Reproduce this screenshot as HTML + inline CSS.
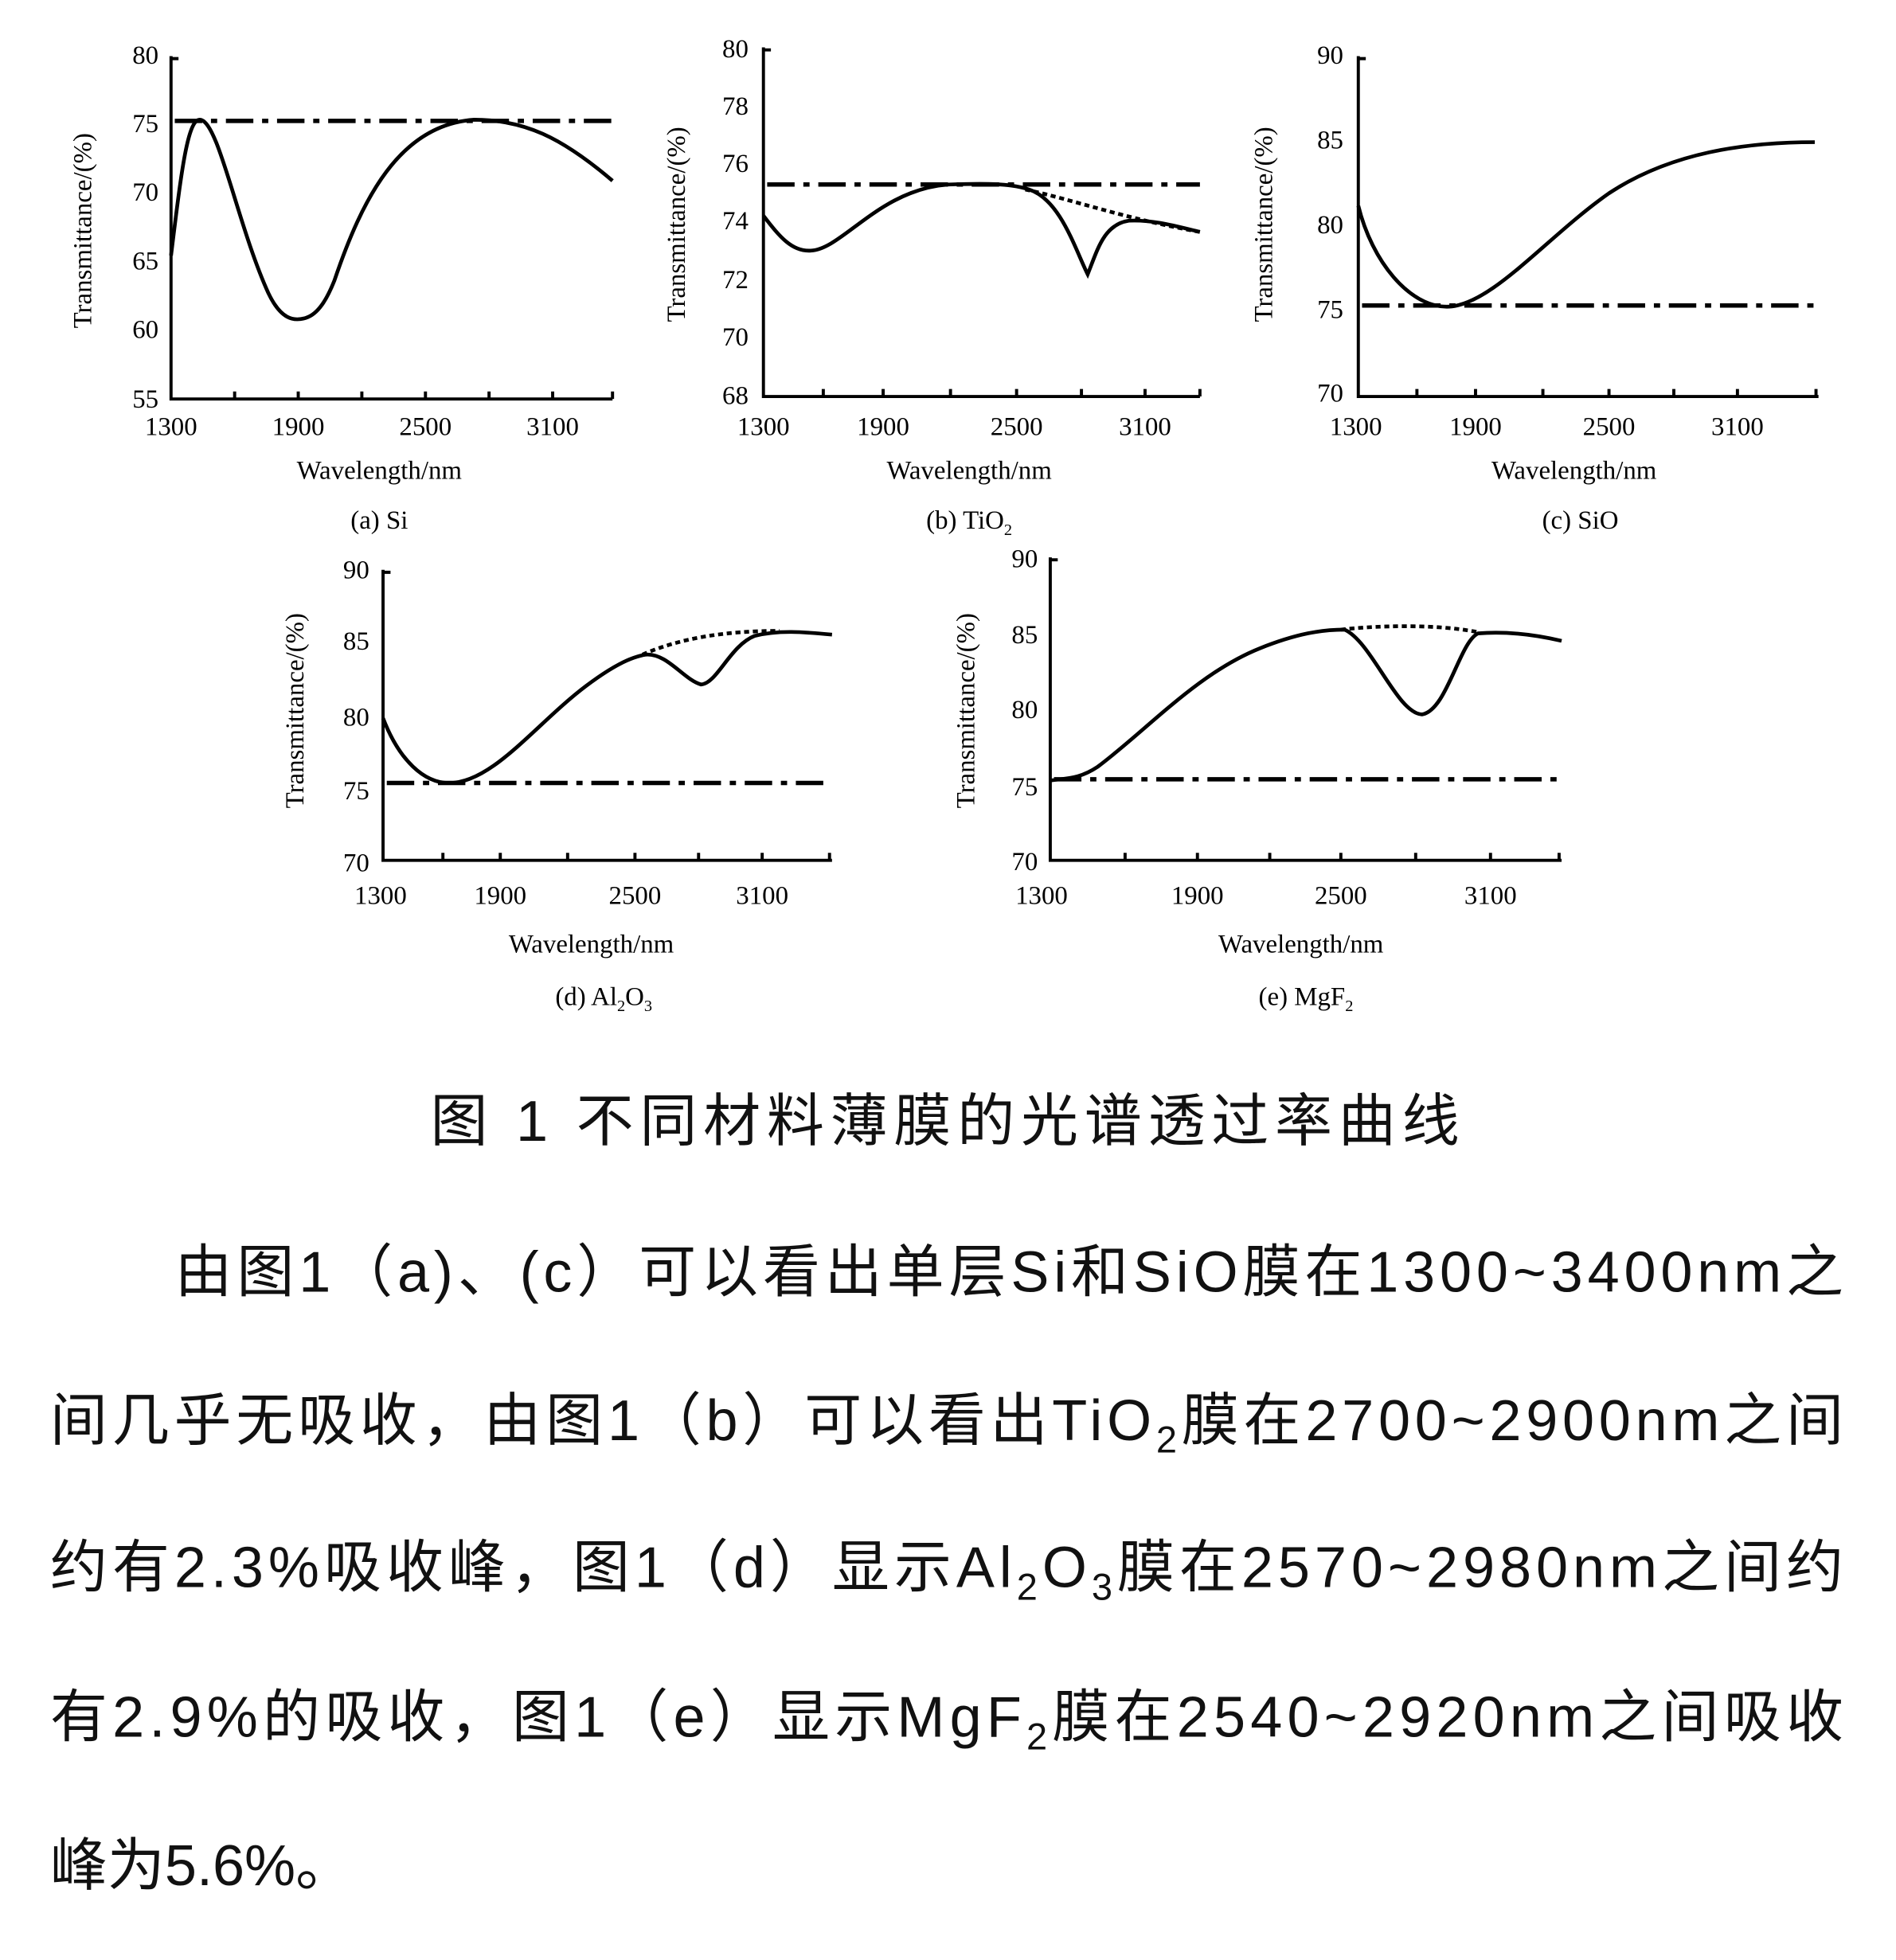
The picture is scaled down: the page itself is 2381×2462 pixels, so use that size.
<!DOCTYPE html>
<html><head><meta charset="utf-8"><style>
html,body{margin:0;padding:0;background:#fff}
svg{display:block}
.t{font-family:"Liberation Serif",serif;font-size:21px;fill:#000}
.c{font-family:"Liberation Sans","Noto Sans CJK SC",sans-serif;fill:#111}
.s{fill:none;stroke:#000;stroke-width:3}
.dd{fill:none;stroke:#000;stroke-width:3.5;stroke-dasharray:22 7 5 7}
.dt{fill:none;stroke:#000;stroke-width:3;stroke-dasharray:4 3}
.ax{fill:none;stroke:#000;stroke-width:2.5}
</style></head><body>
<svg width="2381" height="2462" viewBox="0 0 1520 1572" xmlns="http://www.w3.org/2000/svg">
<rect width="1520" height="1572" fill="#fff"/>

<g>
<path class="ax" d="M137,45 V320 H491 M137,47 h6 M188,320 v-6 M239,320 v-6 M290,320 v-6 M341,320 v-6 M392,320 v-6 M443,320 v-6 M491,320 v-6"/>
<g class="t" text-anchor="end"><text x="127" y="51">80</text><text x="127" y="106">75</text><text x="127" y="161">70</text><text x="127" y="216">65</text><text x="127" y="271">60</text><text x="127" y="327">55</text></g>
<g class="t" text-anchor="middle"><text x="137" y="349">1300</text><text x="239" y="349">1900</text><text x="341" y="349">2500</text><text x="443" y="349">3100</text>
<text x="304" y="384">Wavelength/nm</text><text x="304" y="424">(a) Si</text></g>
<text class="t" transform="translate(73,185) rotate(-90)" text-anchor="middle">Transmittance/(%)</text>
<path class="dd" d="M140,97 H495"/>
<path class="s" d="M137,205 C145,140 150,96 160,96 C175,96 190,180 215,235 C225,256 235,258 245,255 C255,252 262,240 268,225 C290,160 320,100 380,96 C420,96 450,110 491,145"/>
</g>

<g>
<path class="ax" d="M612,38 V318 H962 M612,40 h6 M660,318 v-6 M708,318 v-6 M762,318 v-6 M815,318 v-6 M867,318 v-6 M918,318 v-6 M962,318 v-6"/>
<g class="t" text-anchor="end"><text x="600" y="46">80</text><text x="600" y="92">78</text><text x="600" y="138">76</text><text x="600" y="184">74</text><text x="600" y="231">72</text><text x="600" y="277">70</text><text x="600" y="324">68</text></g>
<g class="t" text-anchor="middle"><text x="612" y="349">1300</text><text x="708" y="349">1900</text><text x="815" y="349">2500</text><text x="918" y="349">3100</text>
<text x="777" y="384">Wavelength/nm</text><text x="777" y="424">(b) TiO<tspan font-size="13" dy="5">2</tspan></text></g>
<text class="t" transform="translate(549,180) rotate(-90)" text-anchor="middle">Transmittance/(%)</text>
<path class="dd" d="M615,148 H962"/>
<path class="dt" d="M822,152 C860,160 900,175 962,186"/>
<path class="s" d="M612,173 C625,190 635,202 650,201 C675,200 705,152 760,148 C790,147 810,147 825,152 C850,160 862,200 872,220 C880,200 885,180 905,177 C925,176 945,182 962,186"/>
</g>

<g>
<path class="ax" d="M1089,45 V318 H1458 M1089,47 h6 M1136,318 v-6 M1183,318 v-6 M1237,318 v-6 M1290,318 v-6 M1342,318 v-6 M1393,318 v-6 M1456,318 v-6"/>
<g class="t" text-anchor="end"><text x="1077" y="51">90</text><text x="1077" y="119">85</text><text x="1077" y="187">80</text><text x="1077" y="255">75</text><text x="1077" y="322">70</text></g>
<g class="t" text-anchor="middle"><text x="1087" y="349">1300</text><text x="1183" y="349">1900</text><text x="1290" y="349">2500</text><text x="1393" y="349">3100</text>
<text x="1262" y="384">Wavelength/nm</text><text x="1267" y="424">(c) SiO</text></g>
<text class="t" transform="translate(1020,180) rotate(-90)" text-anchor="middle">Transmittance/(%)</text>
<path class="dd" d="M1092,245 H1455"/>
<path class="s" d="M1089,165 C1100,210 1130,246 1160,246 C1195,246 1240,190 1290,155 C1340,122 1400,114 1455,114"/>
</g>

<g>
<path class="ax" d="M307,457 V690 H667 M307,459 h6 M355,690 v-6 M401,690 v-6 M455,690 v-6 M509,690 v-6 M560,690 v-6 M611,690 v-6 M665,690 v-6"/>
<g class="t" text-anchor="end"><text x="296" y="464">90</text><text x="296" y="521">85</text><text x="296" y="582">80</text><text x="296" y="641">75</text><text x="296" y="699">70</text></g>
<g class="t" text-anchor="middle"><text x="305" y="725">1300</text><text x="401" y="725">1900</text><text x="509" y="725">2500</text><text x="611" y="725">3100</text>
<text x="474" y="764">Wavelength/nm</text><text x="484" y="806">(d) Al<tspan font-size="13" dy="5">2</tspan><tspan dy="-5">O</tspan><tspan font-size="13" dy="5">3</tspan></text></g>
<text class="t" transform="translate(243,570) rotate(-90)" text-anchor="middle">Transmittance/(%)</text>
<path class="dd" d="M310,628 H665"/>
<path class="dt" d="M515,525 C545,512 580,506 625,506"/>
<path class="s" d="M307,576 C320,610 340,628 360,628 C395,628 430,580 470,550 C490,535 505,527 518,525 C535,524 548,545 562,549 C575,548 585,518 605,510 C625,505 645,507 667,509"/>
</g>

<g>
<path class="ax" d="M842,447 V690 H1252 M842,449 h6 M902,690 v-6 M960,690 v-6 M1018,690 v-6 M1075,690 v-6 M1135,690 v-6 M1195,690 v-6 M1250,690 v-6"/>
<g class="t" text-anchor="end"><text x="832" y="455">90</text><text x="832" y="516">85</text><text x="832" y="576">80</text><text x="832" y="638">75</text><text x="832" y="698">70</text></g>
<g class="t" text-anchor="middle"><text x="835" y="725">1300</text><text x="960" y="725">1900</text><text x="1075" y="725">2500</text><text x="1195" y="725">3100</text>
<text x="1043" y="764">Wavelength/nm</text><text x="1047" y="806">(e) MgF<tspan font-size="13" dy="5">2</tspan></text></g>
<text class="t" transform="translate(781,570) rotate(-90)" text-anchor="middle">Transmittance/(%)</text>
<path class="dd" d="M845,625 H1252"/>
<path class="dt" d="M1075,505 C1100,502 1150,500 1185,507"/>
<path class="s" d="M842,626 C855,624 865,625 880,615 C920,585 960,540 1010,520 C1040,508 1060,505 1078,505 C1100,515 1120,572 1140,573 C1160,570 1170,515 1185,508 C1210,506 1235,510 1252,514"/>
</g>

<text class="c" x="345" y="915" font-size="46" textLength="825" lengthAdjust="spacing">图 1  不同材料薄膜的光谱透过率曲线</text>
<g class="c" font-size="46">
<text x="140" y="1036" textLength="1338" lengthAdjust="spacing">由图1（a)、(c）可以看出单层Si和SiO膜在1300~3400nm之</text>
<text x="40" y="1155" textLength="1438" lengthAdjust="spacing">间几乎无吸收，由图1（b）可以看出TiO<tspan font-size="30" dy="10">2</tspan><tspan dy="-10">膜在2700~2900nm之间</tspan></text>
<text x="40" y="1273" textLength="1438" lengthAdjust="spacing">约有2.3%吸收峰，图1（d）显示Al<tspan font-size="30" dy="10">2</tspan><tspan dy="-10">O</tspan><tspan font-size="30" dy="10">3</tspan><tspan dy="-10">膜在2570~2980nm之间约</tspan></text>
<text x="40" y="1393" textLength="1438" lengthAdjust="spacing">有2.9%的吸收，图1（e）显示MgF<tspan font-size="30" dy="10">2</tspan><tspan dy="-10">膜在2540~2920nm之间吸收</tspan></text>
<text x="40" y="1512">峰为5.6%。</text>
</g>
</svg>
</body></html>
